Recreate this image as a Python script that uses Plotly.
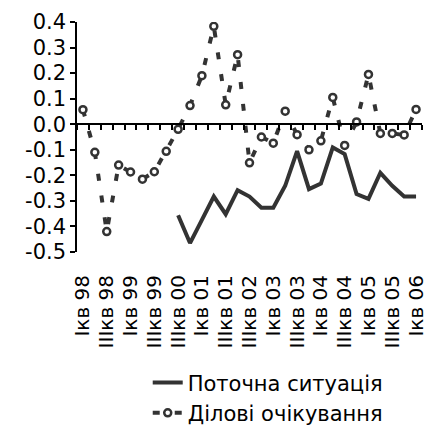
import plotly.graph_objects as go

# ---- data ----
quarter_index = list(range(29))
tick_positions = list(range(0, 29, 2))
tick_labels = ["Iкв 98", "IIIкв 98", "Iкв 99", "IIIкв 99", "IIIкв 00", "Iкв 01",
               "IIIкв 01", "IIIкв 02", "Iкв 03", "IIIкв 03", "Iкв 04", "IIIкв 04",
               "Iкв 05", "IIIкв 05", "Iкв 06"]

current_situation = [None, None, None, None, None, None, None, None,
                     -0.356, -0.465, -0.374, -0.283, -0.352, -0.258, -0.283,
                     -0.327, -0.327, -0.241, -0.105, -0.254, -0.232, -0.091,
                     -0.117, -0.273, -0.292, -0.190, -0.241, -0.283, -0.283]

business_expectations = [0.057, -0.110, -0.420, -0.160, -0.187, -0.215, -0.186,
                         -0.106, -0.020, 0.073, 0.190, 0.383, 0.076, 0.272,
                         -0.151, -0.050, -0.074, 0.051, -0.041, -0.100, -0.065,
                         0.105, -0.083, 0.009, 0.195, -0.036, -0.036, -0.042, 0.058]

y_tick_values = [-0.5, -0.4, -0.3, -0.2, -0.1, 0.0, 0.1, 0.2, 0.3, 0.4]
y_tick_labels = ["-0.5", "-0.4", "-0.3", "-0.2", "-0.1", "0.0", "0.1", "0.2", "0.3", "0.4"]

series_names = ["Поточна ситуація", "Ділові очікування"]

# ---- figure ----
FONT = "Verdana, DejaVu Sans, sans-serif"
LINE_COLOR = "#333333"

fig = go.Figure()
fig.add_trace(go.Scatter(
    x=quarter_index, y=current_situation, name=series_names[0],
    mode="lines", line=dict(color=LINE_COLOR, width=4),
    connectgaps=False, xaxis="x2",
))
fig.add_trace(go.Scatter(
    x=quarter_index, y=business_expectations, name=series_names[1],
    mode="lines+markers",
    line=dict(color=LINE_COLOR, width=4, dash="7px,15px"),
    marker=dict(symbol="circle", size=7, color="white",
                line=dict(color=LINE_COLOR, width=2.5)),
))

x_range = [-0.5, len(quarter_index) - 0.5]
y_range = [-0.5, 0.4]

fig.update_layout(
    width=429, height=435,
    margin=dict(l=77, r=2, t=22, b=182),
    paper_bgcolor="white", plot_bgcolor="white",
    font=dict(family=FONT, color="black", size=20),
    showlegend=True,
    legend=dict(
        orientation="v", x=0.205, xanchor="left", y=-0.48, yanchor="top",
        font=dict(family=FONT, size=21, color="black"),
        bgcolor="rgba(0,0,0,0)", tracegroupgap=0,
    ),
    xaxis=dict(
        range=x_range, tickmode="array", tickvals=tick_positions,
        ticktext=tick_labels, tickangle=-90,
        ticks="outside", ticklen=14, tickcolor="rgba(0,0,0,0)",
        showline=False, showgrid=False, zeroline=False,
        ticklabeloverflow="allow",
        tickfont=dict(family=FONT, size=20, color="black"),
    ),
    xaxis2=dict(
        range=x_range, overlaying="x", anchor="free",
        position=(0 - y_range[0]) / (y_range[1] - y_range[0]),
        tickmode="linear", tick0=-0.5, dtick=1,
        ticks="outside", ticklen=5, tickwidth=1.5, tickcolor="black",
        showticklabels=False, showline=True, linecolor="black", linewidth=1.5,
        showgrid=False, zeroline=False,
    ),
    yaxis=dict(
        range=y_range, tickmode="array", tickvals=y_tick_values,
        ticktext=y_tick_labels, ticksuffix="\u00a0",
        ticks="outside", ticklen=5, tickwidth=1.5, tickcolor="black",
        showline=True, linecolor="black", linewidth=1.5,
        showgrid=False, zeroline=False,
        tickfont=dict(family=FONT, size=21, color="black"),
    ),
)

fig.write_html("out.html")
